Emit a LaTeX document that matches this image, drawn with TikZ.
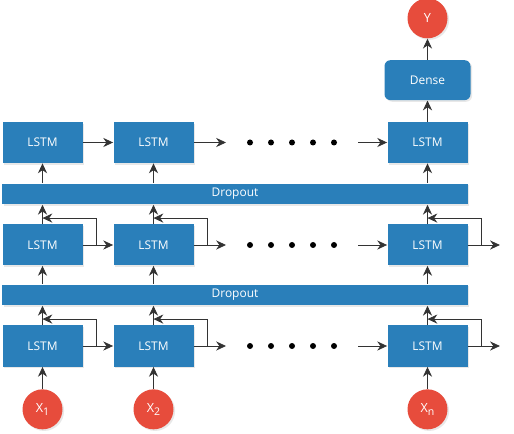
\documentclass[tikz,border=0pt]{standalone}
\usepackage{fontspec}
\setmainfont{Open Sans}
\usetikzlibrary{positioning,arrows.meta,shadows}
\definecolor{cellblue}{HTML}{2A7FBA}
\definecolor{iored}{HTML}{E74C3C}
\newcommand{\lowsub}[1]{\raisebox{-0.45ex}{\fontsize{7.5}{8}\selectfont #1}}

\begin{document}
\begin{tikzpicture}[
  >={Stealth[length=7pt,width=6.5pt]},
  line width=0.6pt, black!80,
  lstm/.style={rectangle, fill=cellblue, text=white, minimum width=2cm, minimum height=1.025cm,
    font=\fontsize{8.5}{10}\selectfont, drop shadow={opacity=0.18, shadow xshift=0.04cm, shadow yshift=-0.04cm}},
  dropbar/.style={rectangle, fill=cellblue, text=white, minimum width=11.625cm, minimum height=0.475cm,
    font=\fontsize{8.5}{10}\selectfont, drop shadow={opacity=0.18, shadow xshift=0.04cm, shadow yshift=-0.04cm}},
  dense/.style={lstm, rounded corners=0.15cm, minimum width=2.15cm, minimum height=1cm},
  io/.style={circle, fill=iored, text=white, minimum size=1cm, inner sep=0pt,
    font=\fontsize{9}{10}\selectfont, drop shadow={opacity=0.18, shadow xshift=0.04cm, shadow yshift=-0.04cm}},
  dot/.style={circle, fill=black, minimum size=0.15cm, inner sep=0pt}
]
\useasboundingbox (0,0) rectangle (12.85,10.825);

% three stacked LSTM layers
\foreach \r/\y in {b/2.175, m/4.7, t/7.2625}{
  \node[lstm] (\r1) at (1.0625,\y) {LSTM};
  \node[lstm] (\r2) at (3.8375,\y) {LSTM};
  \node[lstm] (\r3) at (10.6875,\y) {LSTM};
  \foreach \i in {1,...,5}
    \node[dot] (\r d\i) at (5.725+0.525*\i,\y) {};
  \draw[->] (\r1) -- (\r2);
  \draw[->] (\r2.east) -- ([xshift=-0.6cm]\r d1.center);
  \draw[->] ([xshift=0.6cm]\r d5.center) -- (\r3.west);
}

% dropout between layers
\node[dropbar] (d1) at (5.875,3.45) {Dropout};
\node[dropbar] (d2) at (5.875,5.975) {Dropout};

% recurrent loops and outputs of the lower layers
\foreach \r in {b,m}{
  \foreach \c in {1,2,3}
    \draw[->] (\r\c.east) -- ++(0.325,0) |- ([yshift=0.15cm]\r\c.north);
  \coordinate (\r out) at ([xshift=0.8cm]\r3.east);
  \draw[->] (\r3.east) -- (\r out);
}

% vertical connections
\foreach \c in {1,2,3}{
  \draw[->] (b\c.north) -- (b\c.north |- d1.south);
  \draw[->] (d1.north -| b\c) -- (m\c.south);
  \draw[->] (m\c.north) -- (m\c.north |- d2.south);
  \draw[->] (d2.north -| m\c) -- (t\c.south);
}

% inputs
\node[io, below=0.55cm of b1] (x1) {X\lowsub{1}};
\node[io, below=0.55cm of b2] (x2) {X\lowsub{2}};
\node[io, below=0.55cm of b3] (xn) {X\lowsub{n}};
\draw[->] (x1) -- (b1);
\draw[->] (x2) -- (b2);
\draw[->] (xn) -- (b3);

% output
\node[dense, above=0.525cm of t3] (dense) {Dense};
\node[io, above=0.525cm of dense] (y) {Y};
\draw[->] (t3) -- (dense);
\draw[->] (dense) -- (y);
\end{tikzpicture}
\end{document}
